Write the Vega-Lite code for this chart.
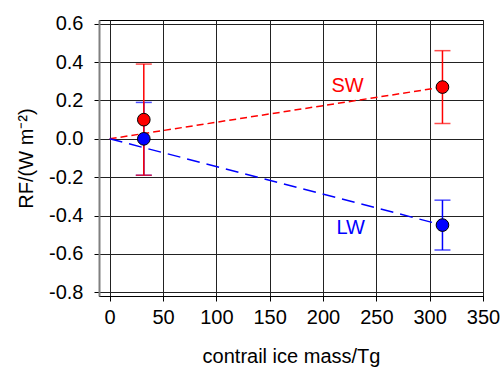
{
  "$schema": "https://vega.github.io/schema/vega-lite/v6.json",
  "width": 384,
  "height": 276,
  "autosize": "none",
  "padding": {"left": 99, "top": 20, "right": 19, "bottom": 72},
  "background": "white",
  "config": {
    "font": "Liberation Sans",
    "view": {"stroke": "#000", "strokeWidth": 1},
    "axis": {
      "labelFont": "Liberation Sans",
      "titleFont": "Liberation Sans",
      "labelFontSize": 20,
      "titleFontSize": 20,
      "titleFontWeight": "normal",
      "labelColor": "#000",
      "titleColor": "#000",
      "tickColor": "#000",
      "tickSize": 5,
      "gridColor": "#222",
      "gridOpacity": 1,
      "gridWidth": 1,
      "labelOverlap": false,
      "labelBound": false,
      "labelFlush": false
    }
  },
  "datasets": {
    "pts": [
      {"series": "LW", "mass": 32, "rf": 0.0, "lo": -0.19, "hi": 0.19},
      {"series": "LW", "mass": 312, "rf": -0.45, "lo": -0.58, "hi": -0.32},
      {"series": "SW", "mass": 32, "rf": 0.10, "lo": -0.19, "hi": 0.39},
      {"series": "SW", "mass": 312, "rf": 0.27, "lo": 0.08, "hi": 0.46}
    ],
    "fit": [
      {"series": "SW", "mass": 0, "rf": 0},
      {"series": "SW", "mass": 312, "rf": 0.27},
      {"series": "LW", "mass": 0, "rf": 0},
      {"series": "LW", "mass": 312, "rf": -0.45}
    ]
  },
  "layer": [
    {
      "data": {"name": "fit"},
      "transform": [{"filter": "datum.series == 'SW'"}],
      "mark": {"type": "line", "color": "#ff0000", "strokeWidth": 1.5, "strokeDash": [7, 4]},
      "encoding": {
        "x": {
          "field": "mass", "type": "quantitative",
          "scale": {"domain": [-10, 350], "nice": false, "zero": false},
          "axis": {
            "values": [0, 50, 100, 150, 200, 250, 300, 350],
            "tickCount": 20,
            "grid": true,
            "title": "contrail ice mass/Tg",
            "labelPadding": 6,
            "titlePadding": 19,
            "domainColor": "#000",
            "domainWidth": 1
          }
        },
        "y": {
          "field": "rf", "type": "quantitative",
          "scale": {"domain": [-0.82, 0.62], "nice": false, "zero": false},
          "axis": {
            "values": [-0.8, -0.6, -0.4, -0.2, 0, 0.2, 0.4, 0.6],
            "tickCount": 20,
            "labelExpr": "replace(format(datum.value, '.1f'), '\u2212', '-')",
            "grid": true,
            "title": "RF/(W m⁻²)",
            "labelPadding": 11,
            "titlePadding": 12,
            "domainColor": "#808080",
            "domainWidth": 2
          }
        }
      }
    },
    {
      "data": {"name": "fit"},
      "transform": [{"filter": "datum.series == 'LW'"}],
      "mark": {"type": "line", "color": "#0000ff", "strokeWidth": 1.5, "strokeDash": [13, 7]},
      "encoding": {
        "x": {"field": "mass", "type": "quantitative"},
        "y": {"field": "rf", "type": "quantitative"}
      }
    },
    {
      "data": {"name": "pts"},
      "transform": [{"filter": "datum.series == 'LW'"}],
      "mark": {"type": "rule", "color": "#0000ff", "strokeWidth": 1.5},
      "encoding": {
        "x": {"field": "mass", "type": "quantitative"},
        "y": {"field": "lo", "type": "quantitative"},
        "y2": {"field": "hi"}
      }
    },
    {
      "data": {"name": "pts"},
      "transform": [{"filter": "datum.series == 'LW'"}, {"fold": ["lo", "hi"], "as": ["end", "val"]}],
      "mark": {"type": "tick", "color": "#0000ff", "orient": "horizontal", "size": 16, "thickness": 1.5},
      "encoding": {
        "x": {"field": "mass", "type": "quantitative"},
        "y": {"field": "val", "type": "quantitative"}
      }
    },
    {
      "data": {"name": "pts"},
      "transform": [{"filter": "datum.series == 'SW'"}],
      "mark": {"type": "rule", "color": "#ff0000", "strokeWidth": 1.5},
      "encoding": {
        "x": {"field": "mass", "type": "quantitative"},
        "y": {"field": "lo", "type": "quantitative"},
        "y2": {"field": "hi"}
      }
    },
    {
      "data": {"name": "pts"},
      "transform": [{"filter": "datum.series == 'SW'"}, {"fold": ["lo", "hi"], "as": ["end", "val"]}],
      "mark": {"type": "tick", "color": "#ff0000", "orient": "horizontal", "size": 16, "thickness": 1.5},
      "encoding": {
        "x": {"field": "mass", "type": "quantitative"},
        "y": {"field": "val", "type": "quantitative"}
      }
    },
    {
      "data": {"name": "pts"},
      "transform": [{"filter": "datum.series == 'SW'"}],
      "mark": {"type": "point", "shape": "circle", "filled": true, "fill": "#ff0000", "stroke": "#000", "strokeWidth": 1, "size": 160, "opacity": 1},
      "encoding": {
        "x": {"field": "mass", "type": "quantitative"},
        "y": {"field": "rf", "type": "quantitative"}
      }
    },
    {
      "data": {"name": "pts"},
      "transform": [{"filter": "datum.series == 'LW'"}],
      "mark": {"type": "point", "shape": "circle", "filled": true, "fill": "#0000ff", "stroke": "#000", "strokeWidth": 1, "size": 160, "opacity": 1},
      "encoding": {
        "x": {"field": "mass", "type": "quantitative"},
        "y": {"field": "rf", "type": "quantitative"}
      }
    },
    {
      "data": {"values": [{"label": "SW"}]},
      "mark": {"type": "text", "color": "#ff0000", "fontSize": 20, "font": "Liberation Sans", "align": "center", "baseline": "middle"},
      "encoding": {
        "x": {"datum": 223},
        "y": {"datum": 0.278},
        "text": {"field": "label"}
      }
    },
    {
      "data": {"values": [{"label": "LW"}]},
      "mark": {"type": "text", "color": "#0000ff", "fontSize": 20, "font": "Liberation Sans", "align": "center", "baseline": "middle"},
      "encoding": {
        "x": {"datum": 226},
        "y": {"datum": -0.463},
        "text": {"field": "label"}
      }
    }
  ]
}
